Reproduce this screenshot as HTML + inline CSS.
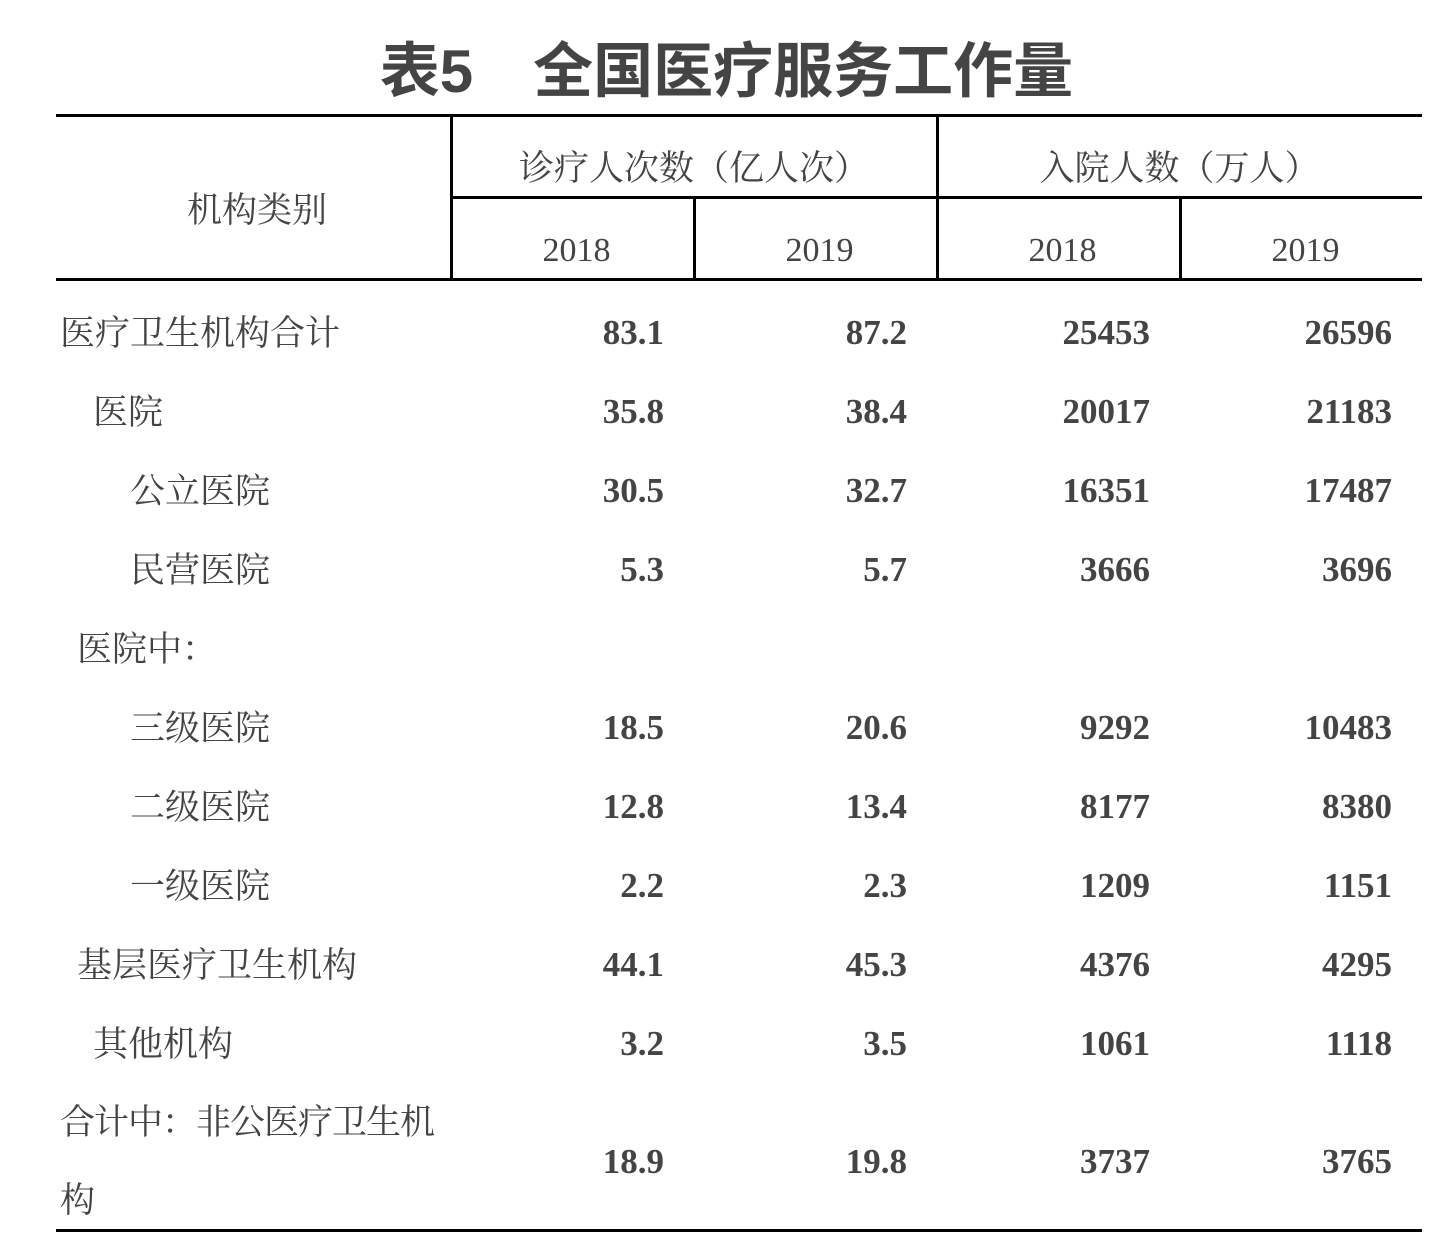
<!DOCTYPE html>
<html><head><meta charset="utf-8"><style>
body{margin:0;width:1453px;height:1249px;background:#fff;position:relative;overflow:hidden;color:#444;}
.t{position:absolute;white-space:nowrap;line-height:1;}
.s{font-family:"Noto Serif CJK SC","Liberation Serif",serif;font-size:35px;}
.y{font-family:"Liberation Serif","Noto Serif CJK SC",serif;font-size:34px;}
.n{font-family:"Liberation Serif","Noto Serif CJK SC",serif;font-size:35px;font-weight:bold;text-align:right;width:200px;}
.h{position:absolute;background:#000;}
</style></head><body>
<div class="t" style="left:0;width:1453px;text-align:center;top:42px;font-family:'Liberation Sans','Noto Sans CJK SC',sans-serif;font-weight:bold;font-size:60px;color:#444;">表5　全国医疗服务工作量</div>
<div class="h" style="left:56px;top:114px;width:1366px;height:3px"></div>
<div class="h" style="left:451px;top:196px;width:971px;height:3px"></div>
<div class="h" style="left:56px;top:278px;width:1366px;height:3px"></div>
<div class="h" style="left:56px;top:1229px;width:1366px;height:3px"></div>
<div class="h" style="left:450px;top:114px;width:3px;height:166px"></div>
<div class="h" style="left:936px;top:114px;width:3px;height:166px"></div>
<div class="h" style="left:693px;top:196px;width:3px;height:84px"></div>
<div class="h" style="left:1179px;top:196px;width:3px;height:84px"></div>
<div class="t s" style="left:187px;top:191px">机构类别</div>
<div class="t s" style="left:451px;width:486px;text-align:center;top:149px">诊疗人次数（亿人次）</div>
<div class="t s" style="left:937px;width:485px;text-align:center;top:149px">入院人数（万人）</div>
<div class="t y" style="left:451px;width:251px;text-align:center;top:234px">2018</div>
<div class="t y" style="left:694px;width:251px;text-align:center;top:234px">2019</div>
<div class="t y" style="left:937px;width:251px;text-align:center;top:234px">2018</div>
<div class="t y" style="left:1180px;width:251px;text-align:center;top:234px">2019</div>

<div class="t s" style="left:60px;top:314px">医疗卫生机构合计</div>
<div class="t s" style="left:93px;top:393px">医院</div>
<div class="t s" style="left:130px;top:472px">公立医院</div>
<div class="t s" style="left:130px;top:551px">民营医院</div>
<div class="t s" style="left:77px;top:630px">医院中：</div>
<div class="t s" style="left:130px;top:709px">三级医院</div>
<div class="t s" style="left:130px;top:788px">二级医院</div>
<div class="t s" style="left:130px;top:867px">一级医院</div>
<div class="t s" style="left:77px;top:946px">基层医疗卫生机构</div>
<div class="t s" style="left:93px;top:1025px">其他机构</div>
<div class="t s" style="left:60px;top:1103px;letter-spacing:-1px">合计中：非公医疗卫生机</div>
<div class="t s" style="left:60px;top:1181px">构</div>

<div id="nums"></div>
<script>
var rows=[[315,"83.1","87.2","25453","26596"],[394,"35.8","38.4","20017","21183"],[473,"30.5","32.7","16351","17487"],[552,"5.3","5.7","3666","3696"],[710,"18.5","20.6","9292","10483"],[789,"12.8","13.4","8177","8380"],[868,"2.2","2.3","1209","1151"],[947,"44.1","45.3","4376","4295"],[1026,"3.2","3.5","1061","1118"],[1144,"18.9","19.8","3737","3765"]];
var xs=[664,907,1150,1392],h="";
rows.forEach(function(r){for(var i=0;i<4;i++)h+='<div class="t n" style="left:'+(xs[i]-200)+'px;top:'+r[0]+'px">'+r[i+1]+'</div>';});
document.getElementById("nums").innerHTML=h;
</script>
</body></html>
